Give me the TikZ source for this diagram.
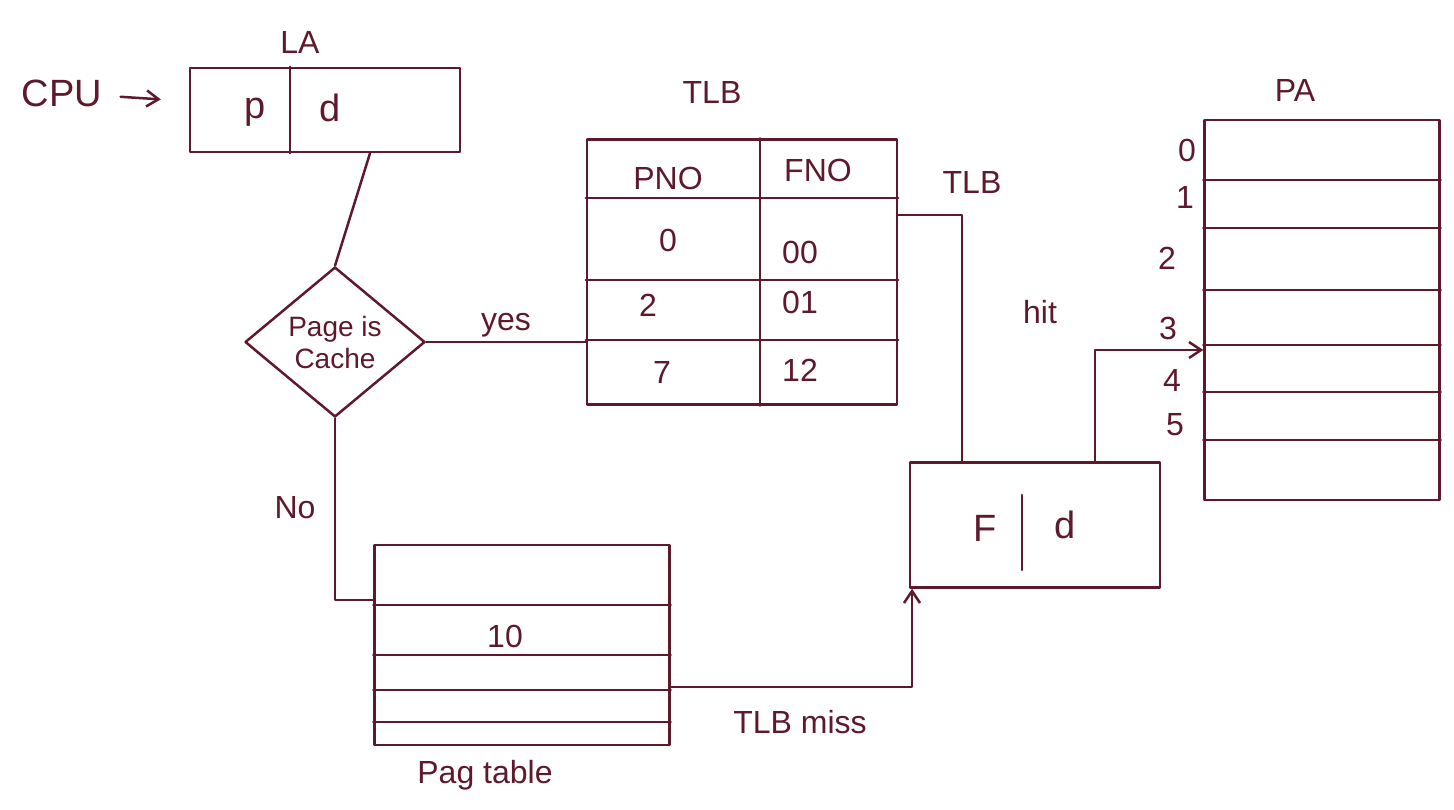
\documentclass[tikz,border=0pt]{standalone}
\usepackage{fontspec}
\setmainfont{Liberation Sans}
\usetikzlibrary{shapes.geometric,arrows.meta}
\definecolor{ink}{RGB}{95,25,45}
\begin{document}
\begin{tikzpicture}[x=1pt,y=-1pt,
 every node/.style={text=ink},
 line/.style={draw=ink,line width=2.5pt,line cap=round,line join=round},
 arr/.style={line,-{Straight Barb[length=12pt,width=16pt]}},
 box/.style={line,rectangle,inner sep=0pt},
 big/.style={font=\fontsize{38}{42}\selectfont},
 mid/.style={font=\fontsize{32}{36}\selectfont},
 small/.style={font=\fontsize{28}{32}\selectfont},
]
\useasboundingbox[fill=white] (0,0) rectangle (1454,809);

% logical address
\node[big] (cpu) at (62,93) {CPU};
\node[box,minimum width=270pt,minimum height=84pt] (la) at (325,110) {};
\draw[line] ([xshift=-35pt]la.north) -- ([xshift=-35pt]la.south);
\node[mid] (lal) at (300,42) {LA};
\node[big] (p) at (255,112) {p};
\node[big] (d) at (330,108) {d};
\draw[arr,shorten <=15pt,shorten >=28pt] (cpu) -- (la);

% decision
\node[diamond,line,inner sep=0pt,minimum width=180pt,minimum height=150pt,align=center,small] (dia) at (335,342) {Page is\\Cache};
\draw[line] ([xshift=45pt]la.south) -- (dia.north);

% TLB table
\node[box,minimum width=310pt,minimum height=265pt] (tlb) at (742,272) {};
\node[mid] (tlbl) at (712,92) {TLB};
\draw[line] (tlb.west |- 0,198) -- (tlb.east |- 0,198);
\draw[line] (tlb.west |- 0,280) -- (tlb.east |- 0,280);
\draw[line] (tlb.west |- 0,340) -- (tlb.east |- 0,340);
\draw[line] (tlb.north -| 760,0) -- (tlb.south -| 760,0);
\node[mid] (pno) at (668,178) {PNO};
\node[mid] (fno) at (818,170) {FNO};
\node[mid] (r0a) at (668,240) {0};
\node[mid] (r0b) at (800,252) {00};
\node[mid] (r1a) at (648,305) {2};
\node[mid] (r1b) at (800,302) {01};
\node[mid] (r2a) at (662,372) {7};
\node[mid] (r2b) at (800,370) {12};
\node[mid] (tlbs) at (972,182) {TLB};

\draw[line] (dia.east) -- (dia.east -| tlb.west) node[midway,above,mid] (yes) {yes};

% physical address memory
\node[box,minimum width=235pt,minimum height=380pt] (pa) at (1322,310) {};
\node[mid] (pal) at (1295,90) {PA};
\foreach \y in {180,228,290,345,392,440} \draw[line] (pa.west |- 0,\y) -- (pa.east |- 0,\y);
\node[mid] (n0) at (1187,150) {0};
\node[mid] (n1) at (1185,197) {1};
\node[mid] (n2) at (1167,258) {2};
\node[mid] (n3) at (1168,328) {3};
\node[mid] (n4) at (1172,380) {4};
\node[mid] (n5) at (1175,425) {5};

% page table
\node[box,minimum width=295pt,minimum height=200pt] (pt) at (522,645) {};
\foreach \y in {605,655,690,722} \draw[line] (pt.west |- 0,\y) -- (pt.east |- 0,\y);
\node[mid] (ten) at (505,636) {10};
\node[mid] (ptl) at (485,775) {Pag table};

% frame + offset
\node[box,minimum width=250pt,minimum height=125pt] (fd) at (1035,525) {};
\draw[line] (1022,495) -- (1022,570);
\node[big] (f) at (985,528) {F};
\node[big] (d2) at (1065,525) {d};

% connectors
\coordinate (hc) at (962,215);
\draw[line] (tlb.east |- hc) -- (hc) -- (hc |- fd.north);
\node[mid] (hit) at (1040,312) {hit};

\coordinate (pc) at (1095,350);
\draw[arr] (pc |- fd.north) -- (pc) -- (pc -| pa.west);

\coordinate (nc) at (335,600);
\draw[line] (dia.south) -- (dia.south |- nc) -- (nc -| pt.west);
\node[mid] (no) at (295,508) {No};

\coordinate (mc) at (912,687);
\draw[arr] (pt.east |- mc) -- (mc) -- (mc |- fd.south);
\node[mid] (miss) at (800,722) {TLB miss};
\end{tikzpicture}
\end{document}
